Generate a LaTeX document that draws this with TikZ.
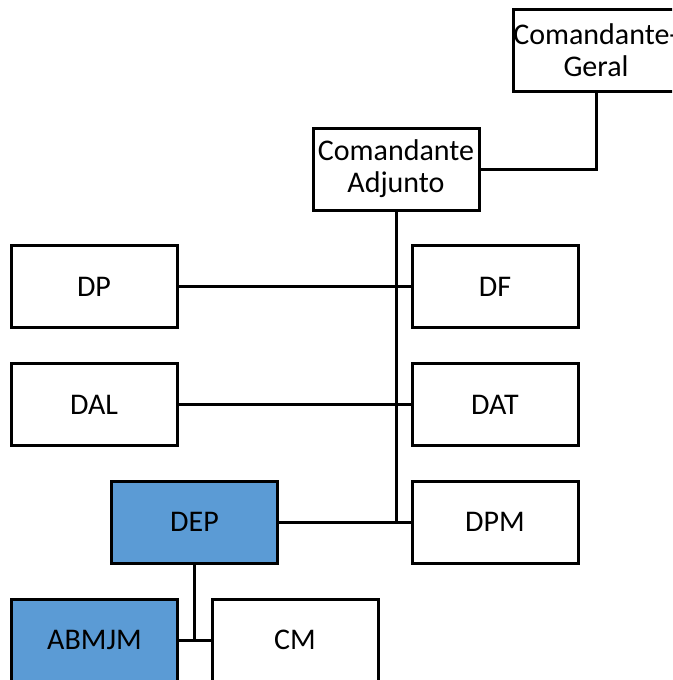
\documentclass[tikz,border=0pt]{standalone}
\usepackage{fontspec}
\setmainfont{Carlito}
\usetikzlibrary{positioning}

\definecolor{unitblue}{HTML}{5B9BD5}

\tikzset{
  unit/.style={draw=black,line width=3pt,fill=white,minimum width=166pt,
    minimum height=82pt,inner sep=0pt,align=center,
    font=\fontsize{30}{32}\selectfont},
  unitblue/.style={unit,fill=unitblue},
  link/.style={line width=3pt}
}

\begin{document}
\begin{tikzpicture}[x=1pt,y=-1pt]
\useasboundingbox (0,0) rectangle (672,680);
\clip (0,0) rectangle (672,680);
% command
\node[unit] (cg) at (596,50.5) {Comandante-\\Geral};
\node[unit] (ca) at (396,169) {Comandante\\Adjunto};
% directorates
\node[unit] (dp) at (94,286.5) {DP};
\node[unit] (df) at (495,286.5) {DF};
\node[unit] (dal) at (94,404.5) {DAL};
\node[unit] (dat) at (495,404.5) {DAT};
\node[unitblue] (dep) at (194.5,522) {DEP};
\node[unit] (dpm) at (495,522) {DPM};
% schools
\node[unitblue] (abm) at (94.5,640) {ABMJM};
\node[unit] (cm) at (295,640) {CM};
% links
\draw[link] (cg.south) |- (ca.east);
\draw[link] (ca.south) -- (ca.south |- dep.east);
\draw[link] (dp.east) -- (df.west);
\draw[link] (dal.east) -- (dat.west);
\draw[link] (dep.east) -- (dpm.west);
\draw[link] (dep.south) -- (dep.south |- abm.east);
\draw[link] (abm.east) -- (cm.west);
\end{tikzpicture}
\end{document}
